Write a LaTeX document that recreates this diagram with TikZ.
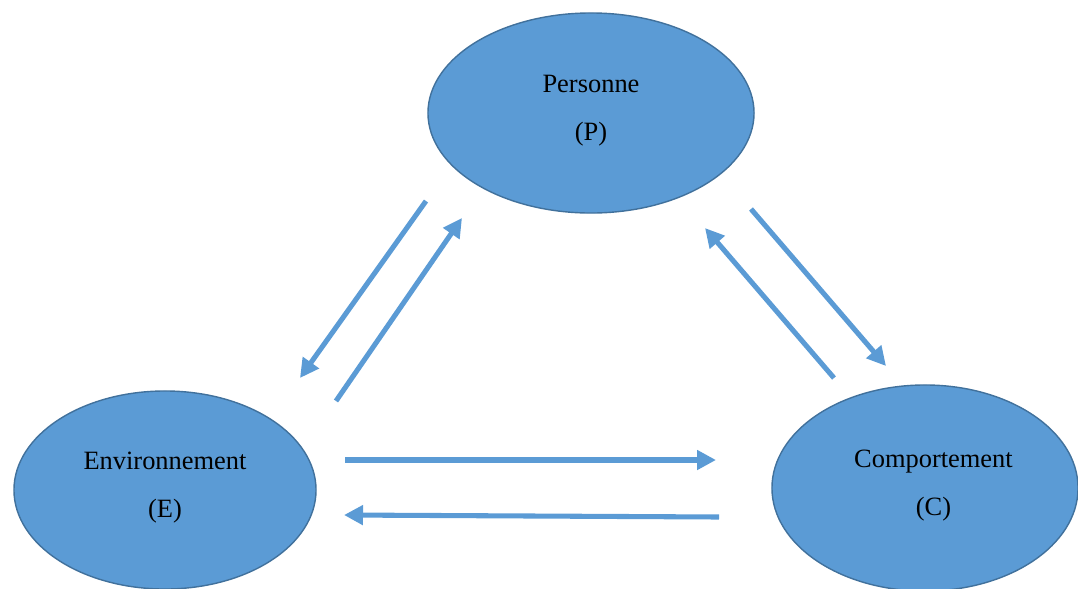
\documentclass[tikz,border=0pt]{standalone}
\usepackage{fontspec}
\setmainfont{Liberation Serif}
\usetikzlibrary{shapes.geometric,arrows.meta}
\definecolor{bubble}{HTML}{5B9BD5}
\definecolor{bubbleline}{HTML}{41719C}
\tikzset{
    pole/.style={draw=bubbleline, line width=1pt, fill=bubble, ellipse, align=center,
        font=\fontsize{18.8}{34}\selectfont, inner sep=0pt},
    link/.style={draw=bubble, line width=3.6pt, -{Triangle[length=13.5pt,width=13.5pt]}}
}
\begin{document}
\begin{tikzpicture}[x=0.025cm, y=-0.025cm]
        \useasboundingbox (0,0) rectangle (1078,588);

        % The three poles
        \node[pole, minimum width=8.15cm, minimum height=5cm] (P) at (591,113) {Personne\\(P)\\[-27pt]};
        \node[pole, minimum width=7.55cm, minimum height=4.95cm] (E) at (165,490) {Environnement\\(E)\\[-27pt]};
        \node[pole, minimum width=7.65cm, minimum height=5.15cm] (C) at (925,488) {\hspace*{12pt}Comportement\\\hspace*{12pt}(C)\\[-27pt]};

        % Arrow ends
        \coordinate (pe1) at (426,201);
        \coordinate (pe2) at (300,378);
        \coordinate (ep1) at (336,401);
        \coordinate (ep2) at (462,218);
        \coordinate (pc1) at (751,209);
        \coordinate (pc2) at (886,366);
        \coordinate (cp1) at (834,378);
        \coordinate (cp2) at (705,228);
        \coordinate (ec1) at (345,460);
        \coordinate (ec2) at (716,460);
        \coordinate (ce1) at (719,517);
        \coordinate (ce2) at (344,515);

        % Draw the arrows
        \foreach \a in {pe,ep,pc,cp,ec,ce} {
            \draw[link] (\a1) -- (\a2);
        }
    \end{tikzpicture}
\end{document}
